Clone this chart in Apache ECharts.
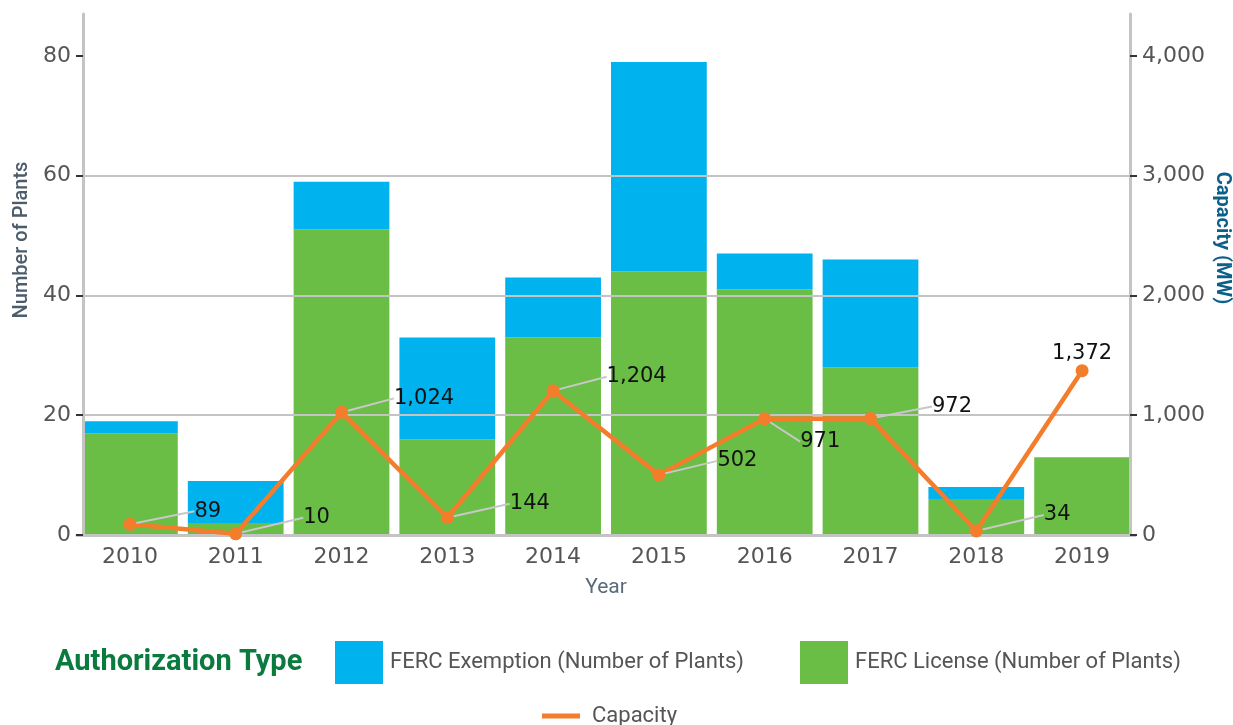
<!DOCTYPE html>
<html>
<head>
<meta charset="utf-8">
<script src="https://cdn.jsdelivr.net/npm/echarts@6/dist/echarts.min.js"></script>
<style>
  html, body { margin: 0; padding: 0; background: #fff; }
  #char { width: 1233px; height: 725px; }
</style>
</head>
<body>
<div id="char"></div>
<script>
// data
var years = ['2010', '2011', '2012', '2013', '2014', '2015', '2016', '2017', '2018', '2019']
var licenseCount = [17, 2, 51, 16, 33, 44, 41, 28, 6, 13]
var exemptionCount = [2, 7, 8, 17, 10, 35, 6, 18, 2, 0]
var capacityMW = [89, 10, 1024, 144, 1204, 502, 971, 972, 34, 1372]
var plantTicks = [0, 20, 40, 60, 80]
var capacityTicks = [0, 1000, 2000, 3000, 4000]

// where each capacity label sits relative to its point
var labelShift = [
  [53, -13], [56, -16], [41, -14], [51, -14], [42, -14],
  [47, -14], [24, 23], [50, -12], [56, -16], null
]

var colorList = ['#00b2ee', '#6abd45', '#f47d2c']
var tickFont = 'DejaVu Sans'
var legendFont = 'Roboto'

var barEchart = echarts.init(document.getElementById('char'))

var capacityData = capacityMW.map(function (v, i) {
  if (!labelShift[i]) {
    return { value: v, label: { position: 'top', distance: 0, offset: [17, 2] }, labelLine: { show: false } }
  }
  return { value: v }
})

var option = {
  animation: false,
  textStyle: { fontFamily: tickFont },
  title: {
    text: 'Authorization Type',
    left: 50,
    top: 643,
    textStyle: {
      color: '#0b7a3e',
      fontFamily: legendFont,
      fontWeight: 'bold',
      fontSize: 29
    }
  },
  graphic: [
    {
      type: 'text',
      x: 22,
      y: 240,
      rotation: Math.PI / 2,
      style: {
        text: 'Number of Plants',
        fill: '#4c5c6c',
        font: '500 20px Roboto',
        align: 'center',
        verticalAlign: 'middle'
      }
    },
    {
      type: 'text',
      x: 1222,
      y: 238,
      rotation: -Math.PI / 2,
      style: {
        text: 'Capacity (MW)',
        fill: '#0b5f88',
        font: 'bold 20px Roboto',
        align: 'center',
        verticalAlign: 'middle'
      }
    }
  ],
  grid: {
    left: 77,
    right: 98,
    top: 14,
    bottom: 190
  },
  legend: [
    {
      left: 330,
      top: 636,
      itemWidth: 48,
      itemHeight: 43,
      itemGap: 56,
      icon: 'rect',
      textStyle: { color: '#555', fontFamily: legendFont, fontSize: 22, padding: [0, 0, 0, 2] },
      data: ['FERC Exemption (Number of Plants)', 'FERC License (Number of Plants)']
    },
    {
      left: 537,
      top: 700,
      itemWidth: 38,
      itemHeight: 5,
      icon: 'rect',
      textStyle: { color: '#555', fontFamily: legendFont, fontSize: 22, padding: [0, 0, 0, 7] },
      data: ['Capacity']
    }
  ],
  xAxis: {
    type: 'category',
    data: years,
    name: 'Year',
    nameLocation: 'middle',
    nameGap: 42,
    nameTextStyle: { color: '#5b6b7a', fontFamily: 'Roboto', fontSize: 21 },
    axisLine: { lineStyle: { color: '#c4c4c4', width: 3 } },
    axisTick: { alignWithLabel: true, length: 9, lineStyle: { color: '#333', width: 2 } },
    axisLabel: { color: '#555', fontSize: 22, margin: 11 }
  },
  yAxis: [
    {
      type: 'value',
      min: 0,
      max: 87,
      interval: 20,
      offset: -6,
      z: 3,
      axisLine: { show: true, lineStyle: { color: '#c4c4c4', width: 3 } },
      axisTick: { show: true, length: 7, lineStyle: { color: '#333', width: 2 }, customValues: plantTicks },
      axisLabel: { color: '#555', fontSize: 22, margin: 12, customValues: plantTicks },
      splitLine: { show: true, showMaxLine: false, lineStyle: { color: '#c4c4c4', width: 2 } }
    },
    {
      type: 'value',
      min: 0,
      max: 4350,
      interval: 1000,
      offset: -5,
      z: 3,
      axisLine: { show: true, lineStyle: { color: '#c4c4c4', width: 3 } },
      axisTick: { show: true, length: 7, lineStyle: { color: '#333', width: 2 }, customValues: capacityTicks },
      axisLabel: {
        color: '#555',
        fontSize: 22,
        margin: 12,
        customValues: capacityTicks,
        formatter: function (v) { return v.toLocaleString('en-US') }
      },
      splitLine: { show: false }
    }
  ],
  series: [
    {
      name: 'FERC License (Number of Plants)',
      type: 'bar',
      stack: 'plants',
      barCategoryGap: '9.5%',
      itemStyle: { color: colorList[1] },
      data: licenseCount
    },
    {
      name: 'FERC Exemption (Number of Plants)',
      type: 'bar',
      stack: 'plants',
      barCategoryGap: '9.5%',
      itemStyle: { color: colorList[0] },
      data: exemptionCount
    },
    {
      name: 'Capacity',
      type: 'line',
      yAxisIndex: 1,
      symbol: 'circle',
      symbolSize: 13,
      lineStyle: { color: colorList[2], width: 4.5 },
      itemStyle: { color: colorList[2] },
      label: {
        show: true,
        position: 'right',
        distance: 5,
        color: '#111',
        fontFamily: tickFont,
        fontSize: 21,
        formatter: function (p) { return p.value.toLocaleString('en-US') }
      },
      labelLine: { show: true, lineStyle: { color: '#c8c8c8', width: 2 } },
      labelLayout: function (params) {
        var s = labelShift[params.dataIndex]
        if (!s) return {}
        return { dx: s[0], dy: s[1] }
      },
      z: 5,
      data: capacityData
    }
  ]
}
barEchart.setOption(option)
</script>
</body>
</html>
